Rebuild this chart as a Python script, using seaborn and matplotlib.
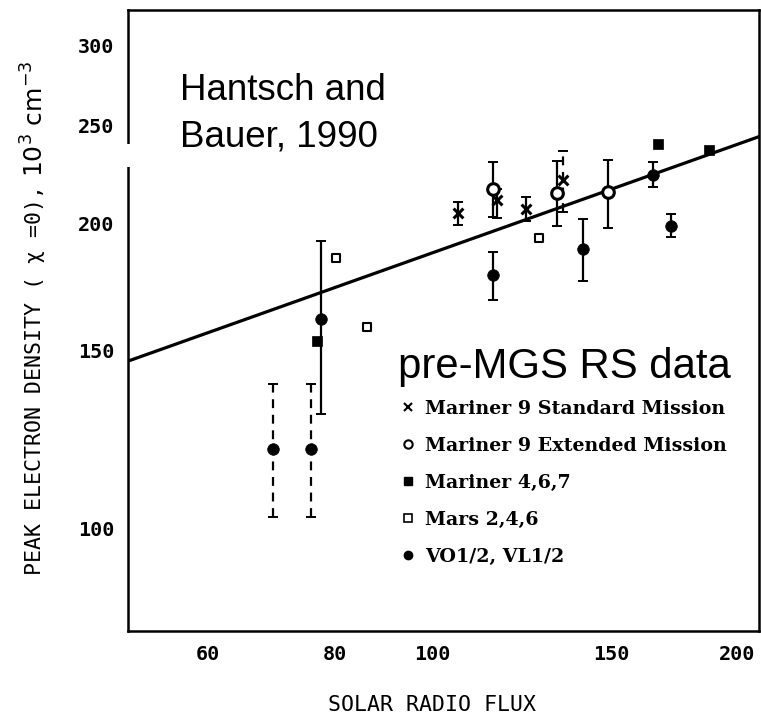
import matplotlib
matplotlib.use("Agg")
import matplotlib.pyplot as plt
import seaborn as sns
import numpy as np
from matplotlib.lines import Line2D
from matplotlib.patches import Rectangle
from matplotlib.ticker import NullLocator, FixedLocator, FixedFormatter

# ---------------- data ----------------
# Mariner 9 Standard Mission (x markers)
m9s_x = [105.8, 115.6, 123.6, 134.5]
m9s_y = [205.1, 211.0, 206.9, 221.2]
m9s_lo = [199.5, 202.8, 201.4, 205.4]
m9s_hi = [210.4, 216.6, 212.7, 236.3]
m9s_dashed = [False, False, False, True]

# Mariner 9 Extended Mission (open circles)
m9e_x = [114.6, 132.5, 149.0]
m9e_y = [216.6, 214.4, 214.9]
m9e_lo = [203.2, 199.0, 198.3]
m9e_hi = [230.2, 230.7, 231.4]

# Mariner 4,6,7 (filled squares)
m467_x = [76.9, 166.9, 187.3]
m467_y = [153.3, 240.0, 236.8]

# Mars 2,4,6 (open squares)
mars_x = [80.3, 86.1, 127.4]
mars_y = [185.0, 158.1, 193.5]

# VO1/2, VL1/2 (filled dots)
vo_x = [69.5, 75.8, 77.6, 114.7, 140.8, 164.9, 171.9]
vo_y = [119.7, 119.7, 161.0, 178.1, 189.0, 223.7, 199.2]
vo_lo = [102.5, 102.5, 129.6, 168.0, 175.7, 217.5, 194.1]
vo_hi = [138.9, 138.9, 192.5, 187.8, 202.3, 230.5, 204.6]
vo_dashed = [True, True, False, False, False, False, False]

# Hantsch and Bauer (1990) power-law fit, end values
fit_x = [50, 210]
fit_y = [146.3, 244.0]

x_ticks = [60, 80, 100, 150, 200]
y_ticks = [100, 150, 200, 250, 300]

legend_labels = ["Mariner 9 Standard Mission", "Mariner 9 Extended Mission",
                 "Mariner 4,6,7", "Mars 2,4,6", "VO1/2, VL1/2"]

# ---------------- figure ----------------
sns.set_theme(style="white")
plt.rcParams["font.family"] = ["DejaVu Sans"]
plt.rcParams["text.color"] = "black"
plt.rcParams["axes.labelcolor"] = "black"
plt.rcParams["xtick.color"] = "black"
plt.rcParams["ytick.color"] = "black"
plt.rcParams["legend.labelcolor"] = "black"

W, H = 761, 717
fig = plt.figure(figsize=(W / 100, H / 100), dpi=100)
L, R, T, B = 128, 759, 9.5, 631
ax = fig.add_axes([L / W, 1 - B / H, (R - L) / W, (B - T) / H])
ax.set_facecolor("white")
ax.set_xscale("log")
ax.set_yscale("log")
ax.set_xlim(50, 210)
ax.set_ylim(79.1, 326)

# fitted line
sns.lineplot(x=fit_x, y=fit_y, ax=ax, color="black", linewidth=2.3, zorder=2)


def err(x, y, lo, hi, dashed):
    x = np.asarray(x); y = np.asarray(y)
    lo = np.asarray(lo); hi = np.asarray(hi)
    d = np.asarray(dashed)
    for mask, ls in ((~d, "-"), (d, (0, (4, 3)))):
        if mask.any():
            _, caps, bars = ax.errorbar(x[mask], y[mask],
                                        yerr=[y[mask] - lo[mask], hi[mask] - y[mask]],
                                        fmt="none", ecolor="black", elinewidth=1.6,
                                        capsize=3.5, capthick=1.4, zorder=2.5)
            for b in bars:
                b.set_linestyle(ls)


err(m9s_x, m9s_y, m9s_lo, m9s_hi, m9s_dashed)
err(m9e_x, m9e_y, m9e_lo, m9e_hi, [False] * len(m9e_x))
err(vo_x, vo_y, vo_lo, vo_hi, vo_dashed)

sns.scatterplot(x=m9s_x, y=m9s_y, ax=ax, marker="x", s=50, color="black",
                linewidth=2.2, zorder=4, legend=False)
sns.scatterplot(x=m9e_x, y=m9e_y, ax=ax, marker="o", s=70, color="black",
                facecolor="white", edgecolor="black", linewidth=2.2, zorder=4, legend=False)
sns.scatterplot(x=m467_x, y=m467_y, ax=ax, marker="s", s=55, color="black",
                edgecolor="black", linewidth=0.5, zorder=4, legend=False)
sns.scatterplot(x=mars_x, y=mars_y, ax=ax, marker="s", s=40, color="black",
                facecolor="white", edgecolor="black", linewidth=1.5, zorder=4, legend=False)
sns.scatterplot(x=vo_x, y=vo_y, ax=ax, marker="o", s=70, color="black",
                edgecolor="black", linewidth=0.5, zorder=4, legend=False)

# axes styling
for sp in ax.spines.values():
    sp.set_visible(True)
    sp.set_color("black")
    sp.set_linewidth(1.8)

ax.xaxis.set_major_locator(FixedLocator(x_ticks))
ax.xaxis.set_major_formatter(FixedFormatter([str(v) for v in x_ticks]))
ax.yaxis.set_major_locator(FixedLocator(y_ticks))
ax.yaxis.set_major_formatter(FixedFormatter([str(v) for v in y_ticks]))
ax.xaxis.set_minor_locator(NullLocator())
ax.yaxis.set_minor_locator(NullLocator())
ax.tick_params(axis="both", which="major", direction="in", length=9, width=1.8,
               color="black", labelcolor="black")
ax.tick_params(axis="x", pad=10)
ax.tick_params(axis="y", pad=10)
for lab in ax.get_xticklabels() + ax.get_yticklabels():
    lab.set_fontfamily("DejaVu Sans Mono")
    lab.set_fontweight("bold")
    lab.set_fontsize(14.5)

ax.set_xlabel("SOLAR RADIO FLUX", family="DejaVu Sans Mono", fontsize=15.5,
              color="black")
ax.xaxis.label.set_va("center")
ax.xaxis.set_label_coords((432 - L) / (R - L), (B - 705) / (B - T))

# y label: main part in typewriter font, units in a proportional font
ylab = fig.text(35 / W, 1 - 575 / H, "PEAK ELECTRON DENSITY ( \u03c7 =0),",
                rotation=90, family="DejaVu Sans Mono", fontsize=15.5,
                ha="center", va="bottom", color="black")
ax.annotate("10$^{3}$ cm$^{-3}$", xy=(0.5, 1.0), xycoords=ylab,
            xytext=(0, 6), textcoords="offset points", rotation=90,
            family="DejaVu Sans", fontsize=18, ha="center", va="bottom",
            color="black", annotation_clip=False)

# white gap in the left spine (paste artifact of the source figure)
ax.add_patch(Rectangle((-0.01, (B - 167) / (B - T)), 0.02, 23 / (B - T),
                       transform=ax.transAxes, facecolor="white", edgecolor="none",
                       clip_on=False, zorder=10))

# annotations
ax.text((180 - L) / (R - L), (B - 114) / (B - T), "Hantsch and\nBauer, 1990",
        transform=ax.transAxes, family="Liberation Sans", fontsize=26.5,
        ha="left", va="center", linespacing=1.41, color="black")
ax.text((398 - L) / (R - L), (B - 367) / (B - T), "pre-MGS RS data",
        transform=ax.transAxes, family="Liberation Sans", fontsize=30.2,
        ha="left", va="center", color="black")

handles = [
    Line2D([], [], ls="none", marker="x", color="black", ms=6, mew=1.5),
    Line2D([], [], ls="none", marker="o", mfc="white", mec="black", ms=6, mew=1.5),
    Line2D([], [], ls="none", marker="s", color="black", ms=6),
    Line2D([], [], ls="none", marker="s", mfc="white", mec="black", ms=6, mew=1.2),
    Line2D([], [], ls="none", marker="o", color="black", ms=6),
]
leg = ax.legend(handles, legend_labels, loc="upper left",
                bbox_to_anchor=((398 - L) / (R - L), (B - 400) / (B - T)),
                frameon=False, handlelength=1.0, handletextpad=0.4,
                labelspacing=1.0, borderpad=0, borderaxespad=0,
                prop={"family": "DejaVu Serif", "weight": "bold", "size": 13.7})
for t in leg.get_texts():
    t.set_color("black")

fig.savefig("out.png", dpi=100, facecolor="white")
